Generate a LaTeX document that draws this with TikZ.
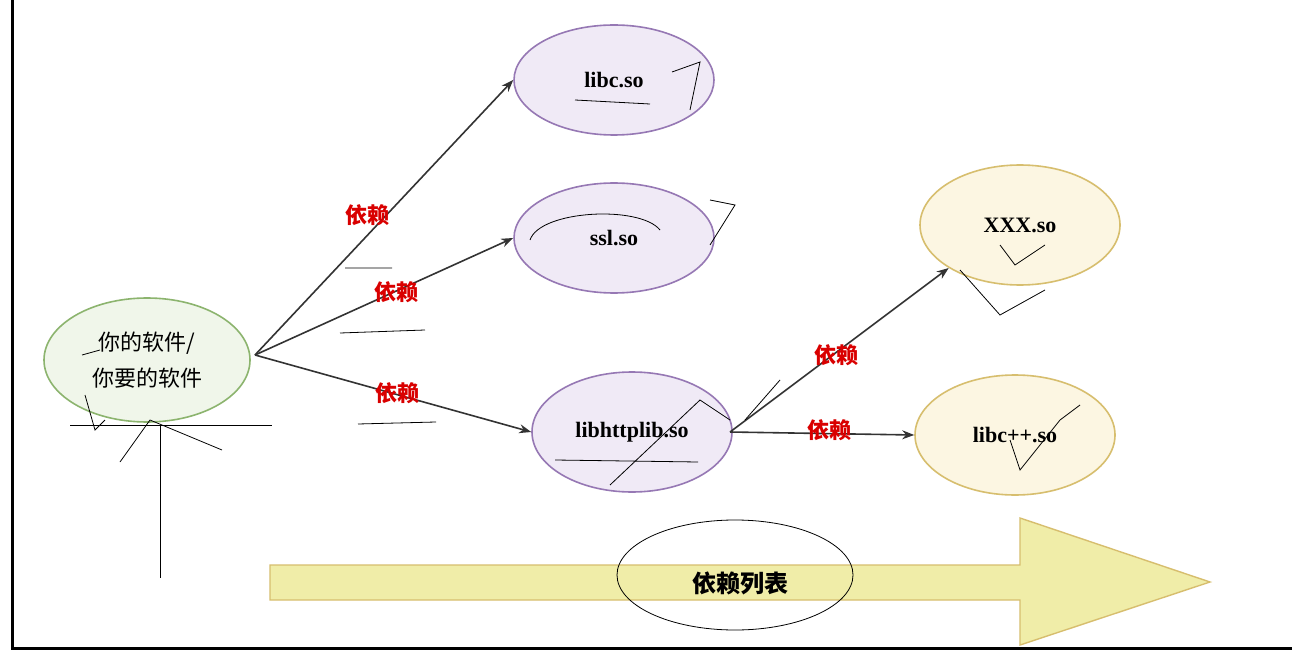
\documentclass[tikz,border=0pt]{standalone}
\usepackage{fontspec}
\setmainfont{Liberation Serif}
\newfontfamily\cjk{Noto Sans CJK SC}
\usetikzlibrary{patterns,arrows.meta,shapes.geometric}
\definecolor{pur}{RGB}{150,120,180}
\definecolor{purf}{RGB}{240,234,246}
\definecolor{grn}{RGB}{140,180,110}
\definecolor{grnf}{RGB}{240,246,234}
\definecolor{yel}{RGB}{215,190,110}
\definecolor{yelf}{RGB}{252,246,226}
\definecolor{arr}{RGB}{230,225,110}
\tikzset{
 lib/.style={ellipse,draw=pur,fill=purf,line width=1.6pt,minimum width=200pt,minimum height=110pt,font=\bfseries\fontsize{22}{24}\selectfont},
 yl/.style={lib,draw=yel,fill=yelf,minimum height=120pt},
 dep/.style={-{Stealth[length=12pt]},line width=1.6pt,draw=black!80},
 lbl/.style={text=red!85!black,font=\cjk\bfseries\fontsize{22}{24}\selectfont},
 scr/.style={black,line width=0.8pt}
}
\begin{document}
\begin{tikzpicture}[x=1pt,y=-1pt]
\useasboundingbox (0,0) rectangle (1292,660);
\fill[white] (0,0) rectangle (1292,660);
\draw[line width=3pt] (12,0) -- (12,648) -- (1292,648);
\node[lib,draw=grn,fill=grnf,minimum width=206pt,minimum height=124pt,font=\cjk\fontsize{22}{36}\selectfont,align=center] (me) at (147,360) {你的软件/\\你要的软件};
\node[lib] (libc) at (614,80) {libc.so};
\node[lib] (ssl) at (614,238) {ssl.so};
\node[lib,minimum height=120pt] (http) at (632,432) {libhttplib.so};
\node[yl] (xxx) at (1020,225) {XXX.so};
\node[yl] (cpp) at (1015,435) {libc++.so};
\coordinate (o) at (255,355);
\coordinate (h) at (730,432);
\draw[dep] (o) -- (libc.west);
\draw[dep] (o) -- (ssl.west);
\draw[dep] (o) -- (http.west);
\draw[dep] (h) -- (xxx.south west);
\draw[dep] (h) -- (cpp.west);
\node[lbl] (l1) at (367,215) {依赖};
\node[lbl] (l2) at (396,292) {依赖};
\node[lbl] (l3) at (397,393) {依赖};
\node[lbl] (l4) at (836,355) {依赖};
\node[lbl] (l5) at (829,430) {依赖};
\draw[yel,line width=1.4pt,fill=arr!60] (270,565) -- (1020,565) -- (1020,518) -- (1210,582) -- (1020,645) -- (1020,600) -- (270,600) -- cycle;
\node[font=\cjk\bfseries\fontsize{24}{26}\selectfont] (list) at (740,583) {依赖列表};
% scribbles
\draw[scr] (70,425) -- (272,425);
\draw[scr] (160,425) -- (160,578);
\draw[scr] (120,462) -- (150,420) -- (222,450);
\draw[scr] (735,575) ellipse (118pt and 55pt);
\draw[scr] (345,268) -- (392,268) (340,333) -- (425,330) (358,424) -- (436,422);
\draw[scr] (575,100) -- (650,104) (555,460) -- (698,462) (530,240) .. controls (540,210) and (640,205) .. (660,230);
\draw[scr] (672,72) -- (700,62) -- (690,110) (710,200) -- (735,205) -- (710,245);
\draw[scr] (610,485) -- (700,400) -- (730,420) (745,420) -- (780,380);
\draw[scr] (1000,245) -- (1015,265) -- (1045,245) (960,270) -- (1000,315) -- (1045,290);
\draw[scr] (1010,440) -- (1020,470) -- (1060,420) -- (1080,405);
\draw[scr] (82,355) -- (100,350) (85,395) -- (95,430) -- (105,420);
\end{tikzpicture}
\end{document}
